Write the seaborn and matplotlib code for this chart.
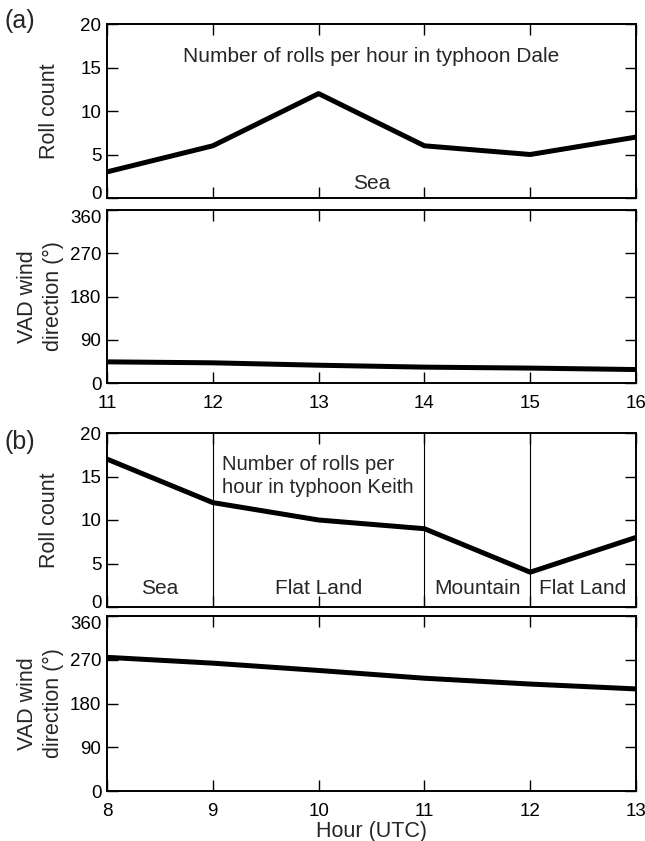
import matplotlib
matplotlib.use("Agg")
import matplotlib.pyplot as plt
import matplotlib.transforms as mtransforms
import seaborn as sns
import pandas as pd

sns.set_theme(style="ticks")
plt.rcParams["font.family"] = ["Liberation Sans", "DejaVu Sans"]

# Typhoon Dale
hours_a = [11, 12, 13, 14, 15, 16]
rolls_a = [3, 6, 12, 6, 5, 7]
vad_a = [44, 42, 37, 33, 31, 28]

# Typhoon Keith
hours_b = [8, 9, 10, 11, 12, 13]
rolls_b = [17, 12, 10, 9, 4, 8]
vad_b = [275, 263, 248, 232, 220, 210]

# Terrain segments for typhoon Keith: boundaries and labels
terrain_bounds = [9, 11, 12]
terrain_labels = ["Sea", "Flat Land", "Mountain", "Flat Land"]
terrain_centers = [8.5, 10, 11.5, 12.5]

W, H = 645, 841
fig = plt.figure(figsize=(W / 100, H / 100), dpi=100)

def add_ax(top, bottom, left=107, right=636):
    return fig.add_axes([left / W, 1 - bottom / H, (right - left) / W, (bottom - top) / H])

ax_a1 = add_ax(24, 198)
ax_a2 = add_ax(210, 383)
ax_b1 = add_ax(433, 607)
ax_b2 = add_ax(616, 791)

LW = 3.6
FS = 13.5
FS_TXT = 15
FS_LAB = 15.5

def style(ax, xticks, yticks, ylim, show_xlabels):
    ax.set_xlim(xticks[0], xticks[-1])
    ax.set_ylim(*ylim)
    ax.set_xticks(xticks)
    ax.set_yticks(yticks)
    ax.tick_params(direction="in", length=8, width=1.0, top=True, right=True,
                   labelsize=FS, colors="black")
    ax.tick_params(axis="x", pad=9)
    ax.tick_params(axis="y", pad=4)
    if not show_xlabels:
        ax.set_xticklabels([])
    for s in ax.spines.values():
        s.set_linewidth(1.4)
        s.set_color("black")
    ax.set_xlabel("")

df_a = pd.DataFrame({"hour": hours_a, "rolls": rolls_a, "vad": vad_a})
df_b = pd.DataFrame({"hour": hours_b, "rolls": rolls_b, "vad": vad_b})

sns.lineplot(data=df_a, x="hour", y="rolls", ax=ax_a1, color="black", lw=LW)
sns.lineplot(data=df_a, x="hour", y="vad", ax=ax_a2, color="black", lw=LW)
sns.lineplot(data=df_b, x="hour", y="rolls", ax=ax_b1, color="black", lw=LW)
sns.lineplot(data=df_b, x="hour", y="vad", ax=ax_b2, color="black", lw=LW)

style(ax_a1, hours_a, [0, 5, 10, 15, 20], (0, 20), False)
style(ax_a2, hours_a, [0, 90, 180, 270, 360], (0, 360), True)
style(ax_b1, hours_b, [0, 5, 10, 15, 20], (0, 20), False)
style(ax_b2, hours_b, [0, 90, 180, 270, 360], (0, 360), True)

# Nudge the stacked "0" and "360" labels apart where two panels meet
up = mtransforms.ScaledTranslation(0, 4 / 72, fig.dpi_scale_trans)
down = mtransforms.ScaledTranslation(0, -5 / 72, fig.dpi_scale_trans)
for ax in (ax_a1, ax_b1):
    lab = ax.get_yticklabels()[0]
    lab.set_transform(lab.get_transform() + up)
for ax in (ax_a2, ax_b2):
    lab = ax.get_yticklabels()[-1]
    lab.set_transform(lab.get_transform() + down)

for ax in (ax_a1, ax_b1):
    ax.set_ylabel("Roll count", fontsize=FS_LAB, labelpad=15)
for ax in (ax_a2, ax_b2):
    ax.set_ylabel("VAD wind\ndirection (°)", fontsize=FS_LAB, labelpad=4, linespacing=1.3)
ax_b2.set_xlabel("Hour (UTC)", fontsize=FS_LAB, labelpad=0)

ax_a1.text(13.5, 16.3, "Number of rolls per hour in typhoon Dale", ha="center", va="center",
           fontsize=FS_TXT)
ax_a1.text(13.5, 1.7, "Sea", ha="center", va="center", fontsize=FS_TXT)

ax_b1.text(9.09, 15.1, "Number of rolls per\nhour in typhoon Keith", ha="left", va="center",
           fontsize=14.6, linespacing=1.28)
for xb in terrain_bounds:
    ax_b1.axvline(xb, color="black", lw=0.8)
for xc, lab in zip(terrain_centers, terrain_labels):
    ax_b1.text(xc, 2.1, lab, ha="center", va="center", fontsize=FS_TXT)

fig.text(4 / W, 1 - 21 / H, "(a)", fontsize=18, ha="left", va="center")
fig.text(4 / W, 1 - 442 / H, "(b)", fontsize=18, ha="left", va="center")

fig.savefig("out.png", dpi=100)
